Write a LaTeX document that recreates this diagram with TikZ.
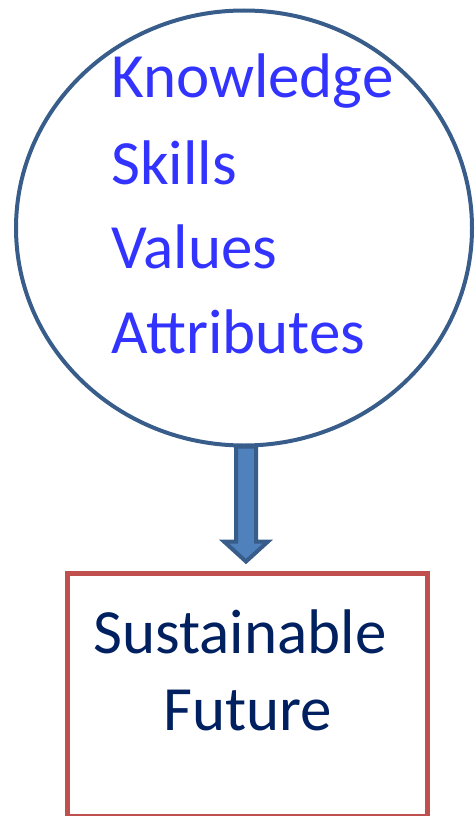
\documentclass[tikz,border=0pt]{standalone}
\usepackage{fontspec}
\setmainfont{Carlito}
\usepackage{tikz}
\usetikzlibrary{calc,shapes.geometric}
\usepackage{xcolor}

\definecolor{ringblue}{HTML}{385D8A}
\definecolor{arrowfill}{HTML}{4F81BD}
\definecolor{boxred}{HTML}{C0504D}
\definecolor{listblue}{HTML}{3333FF}
\definecolor{goalnavy}{HTML}{002060}

\tikzset{
  listitem/.style={anchor=base west, inner sep=0pt, text=listblue,
    font=\fontsize{63}{76}\selectfont},
  goalline/.style={anchor=base, inner sep=0pt, text=goalnavy,
    font=\fontsize{63}{76}\selectfont},
  blockarrow/.style={draw=ringblue, fill=arrowfill, line width=4pt,
    line join=miter}
}

\begin{document}
\begin{tikzpicture}[x=1pt,y=-1pt]
  \useasboundingbox (0,0) rectangle (475,816);

  %--- Ring with the four qualities ---
  \node[draw=ringblue, line width=4pt, ellipse, inner sep=0pt,
        minimum width=456pt, minimum height=435pt] (ring) at (244,228) {};
  \node[listitem] (knowledge) at (111,97) {Knowledge};
  \node[listitem] (skills) at (111,184) {Skills};
  \node[listitem] (values) at (111,268) {Values};
  \node[listitem] (attributes) at (111,353) {Attributes};

  %--- Goal box (runs off the bottom edge) ---
  \node[draw=boxred, line width=5pt, inner sep=0pt,
        minimum width=360pt, minimum height=243pt] (goal) at (247,694.5) {};
  \node[goalline] (sustainable) at (240,653) {Sustainable};
  \node[goalline] (future) at (248,730) {Future};

  %--- Block arrow from ring down to the box ---
  \coordinate (tail) at ($(ring.south)+(2,-1)$);
  \coordinate (tip) at ($(goal.north)+(-1,-9)$);
  \draw[blockarrow] ($(tail)+(-10,0)$) -- ($(tail)+(10,0)$)
    -- ($(tip)+(10,-20)$) -- ($(tip)+(22,-20)$) -- (tip)
    -- ($(tip)+(-22,-20)$) -- ($(tip)+(-10,-20)$) -- cycle;

\end{tikzpicture}
\end{document}
